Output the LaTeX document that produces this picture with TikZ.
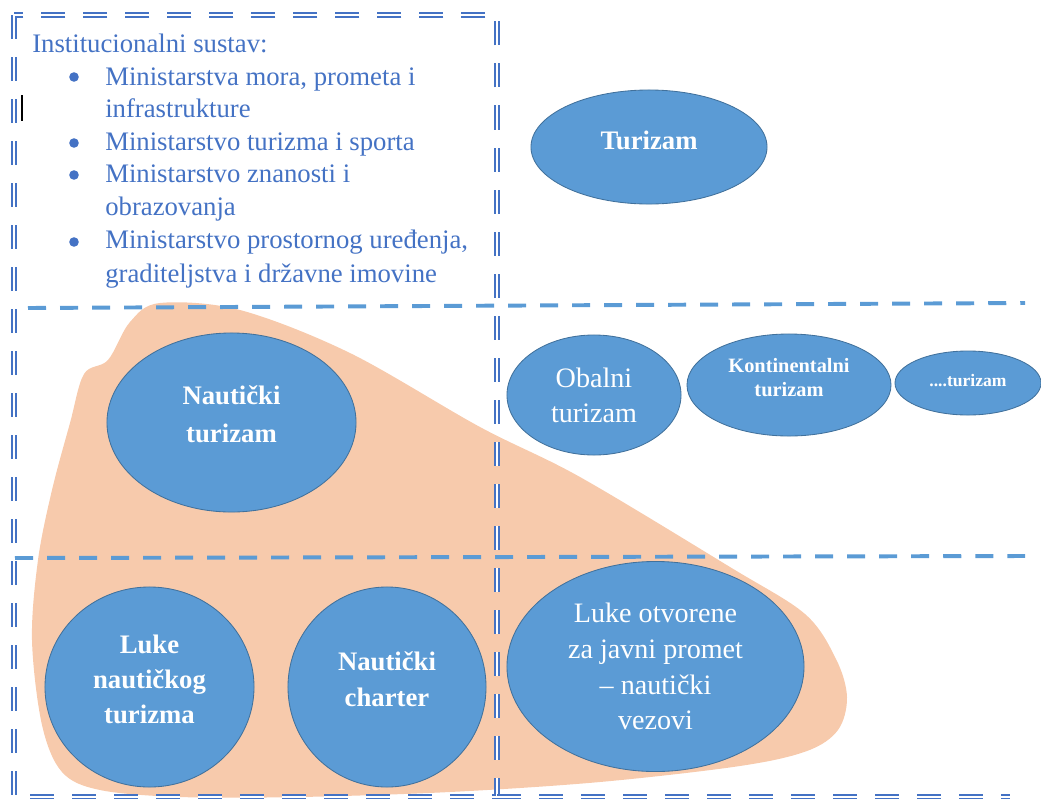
\documentclass[tikz,border=0pt]{standalone}
\usepackage{fontspec}
\setmainfont{Liberation Serif}
\usetikzlibrary{shapes.geometric}
\definecolor{okvirplava}{RGB}{68,114,196}
\definecolor{crtaplava}{RGB}{91,155,213}
\definecolor{rubplava}{RGB}{65,113,156}
\definecolor{breskva}{RGB}{247,202,172}
\newcommand{\txtcol}{okvirplava}
\newcommand{\elcol}{crtaplava}
\tikzset{
  okvir/.style={draw=okvirplava, double=white, line width=1.1pt, double distance=1.4pt,
    dash pattern=on 0.6cm off 0.45cm},
  pregrada/.style={draw=crtaplava, line width=2.8pt, dash pattern=on 0.45cm off 0.35cm},
  elipsa/.style={ellipse, fill=\elcol, draw=rubplava, line width=0.6pt, text=white,
    inner sep=0pt, align=center},
  podigni/.style={execute at end node={\rule[-#1]{0pt}{#1}}},
  spusti/.style={execute at begin node={\rule{0pt}{#1}}},
  popis/.style={\txtcol, inner sep=0pt, anchor=base west, font=\fontsize{19}{22}\selectfont},
}
\begin{document}
\begin{tikzpicture}[x=0.025cm, y=-0.025cm]
    \useasboundingbox (0,0) rectangle (1041,798);

    % podloga - nauticki dio
    \fill[breskva] plot[smooth cycle, tension=0.55] coordinates {
      (160,303) (240,310) (350,353) (480,427) (580,477) (730,567) (805,614)
      (836,659) (847,697) (838,730) (807,751) (740,766) (600,782) (450,792)
      (300,797) (180,797) (100,790) (62,772) (42,725) (32,640) (38,560)
      (52,490) (70,423) (84,374) (108,360) (130,322)};

    \draw[pregrada] (28,308) -- (1025,303);
    \draw[pregrada] (15,558) -- (1025,556);
    \draw[okvir] (14,15) rectangle (497,797);
    \draw[okvir] (497,797) -- (1010,797);
    \draw[black, line width=1.4pt] (22,95) -- (22,121);

    \node[popis] (naslov) at (32,52) {Institucionalni sustav:};
    \node[popis] (m1) at (105,85) {Ministarstva mora, prometa i};
    \node[popis] (m1b) at (105,117) {infrastrukture};
    \node[popis] (m2) at (105,150) {Ministarstvo turizma i sporta};
    \node[popis] (m3) at (105,182) {Ministarstvo znanosti i};
    \node[popis] (m3b) at (105,215) {obrazovanja};
    \node[popis] (m4) at (105,248) {Ministarstvo prostornog uređenja,};
    \node[popis] (m4b) at (105,282) {graditeljstva i državne imovine};
    \fill[\txtcol] (74,77) circle (0.12cm);
    \fill[\txtcol] (74,143) circle (0.12cm);
    \fill[\txtcol] (74,175) circle (0.12cm);
    \fill[\txtcol] (74,242) circle (0.12cm);

    \node[elipsa, podigni=0.35cm, minimum width=5.9cm, minimum height=2.85cm,
      font=\bfseries\fontsize{19}{25}\selectfont] (turizam) at (649,147) {Turizam};
    \node[elipsa, minimum width=4.35cm, minimum height=3cm,
      font=\fontsize{20}{25}\selectfont] (obalni) at (594,395) {Obalni\\turizam};
    \node[elipsa, podigni=0.4cm, minimum width=5.1cm, minimum height=2.55cm,
      font=\bfseries\fontsize{14.5}{17}\selectfont] (kontinent) at (789,385) {Kontinentalni\\turizam};
    \node[elipsa, podigni=0.15cm, minimum width=3.65cm, minimum height=1.6cm,
      font=\bfseries\fontsize{12.5}{15}\selectfont] (ostali) at (968,383) {....turizam};

    \node[elipsa, podigni=0.4cm, minimum width=6.225cm, minimum height=4.475cm,
      font=\bfseries\fontsize{19}{27}\selectfont] (nautturizam) at (231.5,422.5) {Nautički\\turizam};
    \node[elipsa, podigni=0.4cm, minimum width=5.225cm, minimum height=5cm,
      font=\bfseries\fontsize{19}{25}\selectfont] (lukent) at (149.5,687) {Luke\\nautičkog\\turizma};
    \node[elipsa, podigni=0.4cm, minimum width=4.95cm, minimum height=5cm,
      font=\bfseries\fontsize{19}{25}\selectfont] (charter) at (387,687) {Nautički\\charter};
    \node[elipsa, spusti=0.78cm, minimum width=7.425cm, minimum height=5.25cm,
      font=\fontsize{20}{25.5}\selectfont] (lukejp) at (655.5,666.5) {Luke otvorene\\za javni promet\\– nautički\\vezovi};

  \end{tikzpicture}
\end{document}
